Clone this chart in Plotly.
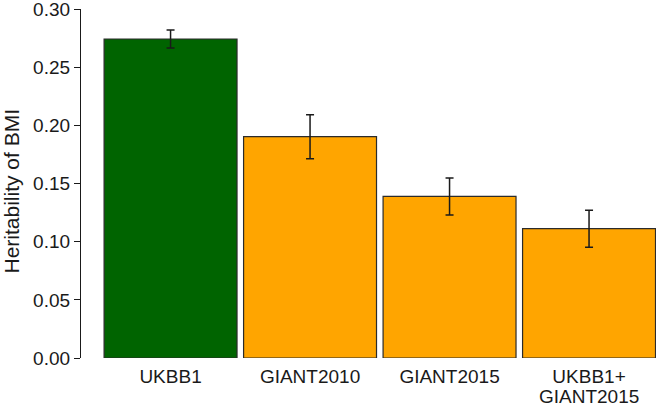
import plotly.graph_objects as go

categories = ["UKBB1", "GIANT2010", "GIANT2015", "UKBB1+"]
label_second_line = ["", "", "", "GIANT2015"]
heritability = [0.2743, 0.1903, 0.1389, 0.1112]
std_err = [0.0078, 0.0189, 0.0159, 0.0159]
bar_colors = ["#006400", "#FFA500", "#FFA500", "#FFA500"]
y_ticks = [0.00, 0.05, 0.10, 0.15, 0.20, 0.25, 0.30]
y_tick_labels = ["0.00", "0.05", "0.10", "0.15", "0.20", "0.25", "0.30"]

font_family = "Liberation Sans, Arial, Helvetica, sans-serif"

fig = go.Figure(
    go.Bar(
        x=list(range(len(categories))),
        y=heritability,
        marker=dict(color=bar_colors, line=dict(color="#2b2b2b", width=1.2)),
        error_y=dict(type="data", array=std_err, visible=True,
                     color="#1a1a1a", thickness=1.5, width=4),
        width=0.953,
    )
)

annotations = [dict(
    text="Heritability of BMI", textangle=-90,
    x=0, y=0.5, xref="paper", yref="paper",
    xshift=-70, yshift=-8, xanchor="center", yanchor="middle",
    showarrow=False, font=dict(size=21),
)]
for i, extra in enumerate(label_second_line):
    if extra:
        annotations.append(dict(
            text=extra, x=i, y=0, xref="x", yref="paper",
            yshift=-38, xanchor="center", yanchor="middle",
            showarrow=False, font=dict(size=19),
        ))

fig.update_layout(
    width=656, height=406,
    margin=dict(l=81, r=0, t=9, b=48, autoexpand=False),
    paper_bgcolor="white", plot_bgcolor="white",
    showlegend=False,
    font=dict(family=font_family, color="#1a1a1a"),
    xaxis=dict(
        range=[-0.642, 3.48],
        tickvals=list(range(len(categories))),
        ticktext=categories,
        showgrid=False, zeroline=False, showline=False,
        ticks="", tickfont=dict(size=19), automargin=False,
        ticklabelstandoff=5,
    ),
    yaxis=dict(
        range=[0, 0.3001],
        tickvals=y_ticks, ticktext=y_tick_labels,
        showgrid=False, zeroline=False,
        showline=True, linecolor="#1a1a1a", linewidth=1.2,
        ticks="outside", ticklen=6, tickwidth=1.2, tickcolor="#1a1a1a",
        tickfont=dict(size=19), automargin=False,
        ticklabeloverflow="allow",
    ),
    annotations=annotations,
)

fig.write_html("out.html", config={"displayModeBar": False},
               post_script="document.body.style.margin='0';")
